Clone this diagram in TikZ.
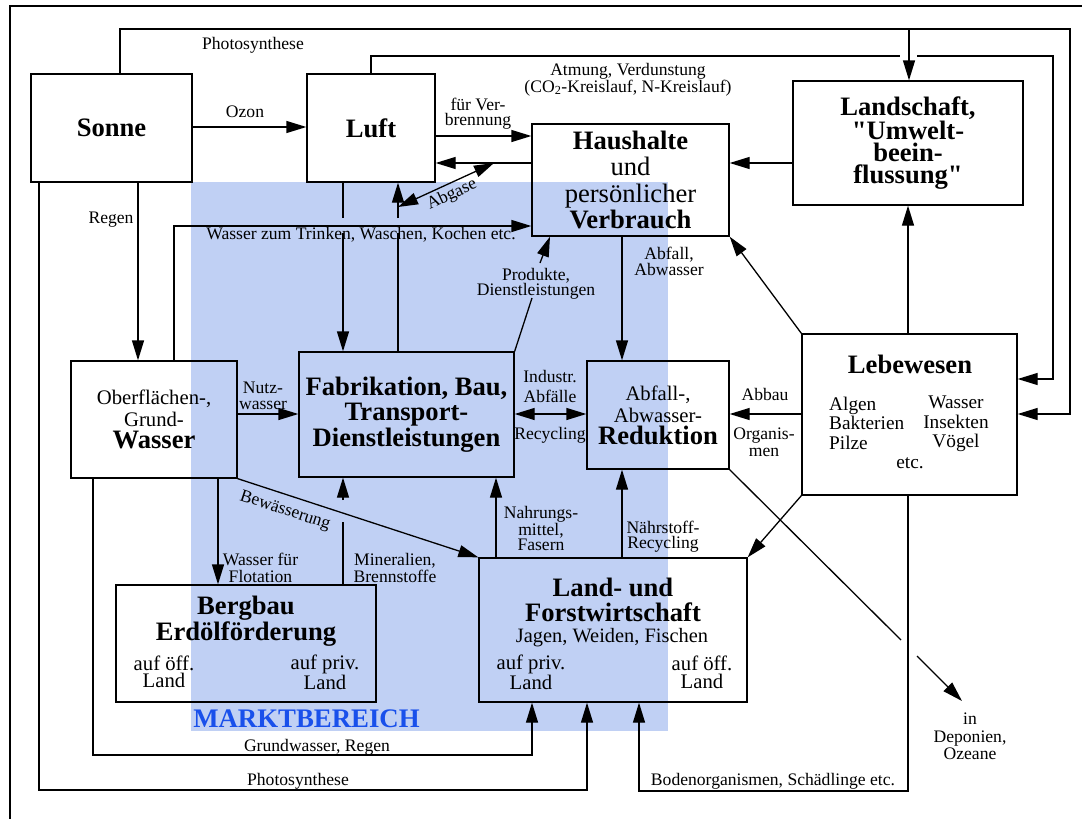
\documentclass[tikz,border=0pt]{standalone}
\usepackage{fontspec}
\setmainfont{Liberation Serif}[Ligatures=TeXOff]
\usetikzlibrary{arrows.meta,calc}
\definecolor{mkt}{RGB}{192,208,244}
\definecolor{mktext}{RGB}{25,80,235}
\newcommand\fsm{\fontsize{17.6}{16}\selectfont}
\newcommand\fmd{\fontsize{20.7}{22}\selectfont}
\newcommand\fbg{\fontsize{26.6}{26}\selectfont}
\begin{document}
\begin{tikzpicture}[x=1pt,y=-1pt,
  box/.style={draw, line width=1.3pt, inner sep=0pt, align=center, font=\fbg\bfseries},
  lab/.style={inner sep=0pt, align=center, font=\fsm},
  ln/.style={line width=1.3pt},
  arr/.style={line width=1.3pt, -{Triangle[length=20pt,width=12pt]}},
  darr/.style={line width=1.3pt, {Triangle[length=20pt,width=12pt]}-{Triangle[length=20pt,width=12pt]}},
]
\useasboundingbox (0,0) rectangle (1087,819);
\fill[mkt] (191,182) rectangle (668,731);
\draw[line width=2.5pt] (10,819) -- (10,6) -- (1082,6);

% boxes
\node[box, minimum width=161pt, minimum height=108pt] (sonne) at (111.5,128) {Sonne};
\node[box, minimum width=128pt, minimum height=108pt] (luft) at (371,128) {Luft};
\node[box, minimum width=197pt, minimum height=112pt, font=\fontsize{26.6}{26.3}\selectfont] (haus) at (630.5,180) {\textbf{Haushalte}\\und\\persönlicher\\\textbf{Verbrauch}};
\node[box, minimum width=230pt, minimum height=124pt, font=\fontsize{26.6}{22}\selectfont\bfseries] (land) at (908,143) {Landschaft,\\"Umwelt-\\beein-\\flussung"};
\node[box, minimum width=166pt, minimum height=117pt, font=\fmd] (wass) at (154,419.5) {Oberflächen-,\\Grund-\\{\fbg\bfseries Wasser}};
\node[box, minimum width=215pt, minimum height=125pt, font=\fontsize{26.6}{25.5}\selectfont\bfseries] (fab) at (406.5,414.5) {Fabrikation, Bau,\\Transport-\\Dienstleistungen};
\node[box, minimum width=142pt, minimum height=108pt, font=\fmd] (red) at (658,415) {Abfall-,\\Abwasser-\\{\fbg\bfseries Reduktion}};
\node[box, minimum width=215pt, minimum height=161pt] (leb) at (909.5,414.5) {};
\node[box, minimum width=260pt, minimum height=117pt] (berg) at (246,643.5) {};
\node[box, minimum width=268pt, minimum height=144pt] (lw) at (613,630) {};

% texts inside boxes
\node[lab, font=\fbg\bfseries] (lebt) at (910,364) {Lebewesen};
\node[lab, font=\fontsize{19.3}{19.5}\selectfont, align=left, anchor=west] (leba) at (829,423) {Algen\\Bakterien\\Pilze};
\node[lab, font=\fontsize{19.3}{19.5}\selectfont] (lebb) at (956,424) {Wasser\\Insekten\\Vögel};
\node[lab, font=\fontsize{19.3}{19.5}\selectfont] (lebc) at (910,463) {etc.};
\node[lab, font=\fbg\bfseries] (bergt) at (246,621) {Bergbau\\Erdölförderung};
\node[lab, font=\fontsize{20.7}{17.5}\selectfont] (berga) at (164,672) {auf öff.\\Land};
\node[lab, font=\fontsize{20.7}{17.5}\selectfont] (bergb) at (325,672) {auf priv.\\Land};
\node[lab, font=\fontsize{26.6}{25}\selectfont\bfseries] (lwt) at (613,600) {Land- und\\Forstwirtschaft};
\node[lab, font=\fontsize{20.4}{20}\selectfont] (lwj) at (612,638) {Jagen, Weiden, Fischen};
\node[lab, font=\fontsize{20.7}{18}\selectfont] (lwa) at (531,672) {auf priv.\\Land};
\node[lab, font=\fontsize{20.7}{18}\selectfont] (lwb) at (702,672) {auf öff.\\Land};

% connector coordinates
\coordinate (ptop) at (909,29);
\coordinate (atmA) at (900,56);
\coordinate (atmB) at (917,56);
\coordinate (abgA) at (398,207);
\coordinate (abgB) at (494,163);
\coordinate (fabUpA) at (398,233);
\coordinate (fabUpB) at (398,218);
\coordinate (luftDnA) at (343,218);
\coordinate (luftDnB) at (343,233);
\coordinate (minA) at (343,522);
\coordinate (minB) at (343,500);
\coordinate (prodA) at (532,298);
\coordinate (prodB) at (540,263);
\coordinate (depA) at (901,640);
\coordinate (depB) at (917,656);
\coordinate (depC) at (962,701);

% connectors
\draw[arr] (120,0 |- sonne.north) |- (1070,29) -- (1070,414) -- (leb.east |- 0,414);
\draw[arr] (ptop) -- (909,0 |- land.north);
\draw[ln] (371,0 |- luft.north) |- (atmA);
\draw[arr] (atmB) -| (1053,379) -- (leb.east |- 0,379);
\draw[arr] (sonne.east |- 0,127) -- (luft.west |- 0,127);
\draw[arr] (luft.east |- 0,136) -- (haus.west |- 0,136);
\draw[arr] (haus.west |- 0,163) -- (luft.east |- 0,163);
\draw[darr] (abgA) -- (abgB);
\draw[ln] (398,0 |- fab.north) -- (fabUpA);
\draw[arr] (fabUpB) -- (398,0 |- luft.south);
\draw[ln] (343,0 |- luft.south) -- (luftDnA);
\draw[arr] (luftDnB) -- (343,0 |- fab.north);
\draw[arr] (174,0 |- wass.north) |- (haus.west |- 0,226);
\draw[arr] (138,0 |- sonne.south) -- (138,0 |- wass.north);
\draw[arr] (39,0 |- sonne.south) |- (587,790) -- (587,0 |- lw.south);
\draw[arr] (93,0 |- wass.south) |- (532,755) -- (532,0 |- lw.south);
\draw[arr] (908,0 |- leb.south) |- (639,791) -- (639,0 |- lw.south);
\draw[arr] (908,0 |- leb.north) -- (908,0 |- land.south);
\draw[darr] (fab.east |- 0,414) -- (red.west |- 0,414);
\draw[arr] (622,0 |- haus.south) -- (622,0 |- red.north);
\draw[ln] (fab.north east) -- (prodA);
\draw[arr] (prodB) -- (550,0 |- haus.south);
\draw[arr] (leb.west |- 0,414) -- (red.east |- 0,414);
\draw[arr] (leb.north west) -- (haus.south east);
\draw[arr] (leb.south west) -- (lw.north east);
\draw[ln] (red.south east) -- (depA);
\draw[arr] (depB) -- (depC);
\draw[arr] (land.west |- 0,163) -- (haus.east |- 0,163);
\draw[arr] (wass.east |- 0,414) -- (fab.west |- 0,414);
\draw[arr] (wass.south east) -- (lw.north west);
\draw[arr] (218,0 |- wass.south) -- (218,0 |- berg.north);
\draw[ln] (343,0 |- berg.north) -- (minA);
\draw[arr] (minB) -- (343,0 |- fab.south);
\draw[arr] (496,0 |- lw.north) -- (496,0 |- fab.south);
\draw[arr] (622,0 |- lw.north) -- (622,0 |- red.south);

% labels
\node[lab] (lphoto1) at (253,45) {Photosynthese};
\node[lab] (lozon) at (245,112) {Ozon};
\node[lab] (lregen) at (111,220) {Regen};
\node[lab, font=\fontsize{17.6}{15}\selectfont] (lverbr) at (478,113.5) {für Ver-\\brennung};
\node[lab, font=\fontsize{17.6}{17}\selectfont] (latm) at (628,79.5) {Atmung, Verdunstung\\(CO\textsubscript{2}-Kreislauf, N-Kreislauf)};
\node[lab, rotate=25] (labg) at (452,195) {Abgase};
\node[lab] (lwtr) at (361,235) {Wasser zum Trinken, Waschen, Kochen etc.};
\node[lab] (labf) at (669,261) {Abfall,\\Abwasser};
\node[lab, font=\fontsize{17.6}{15}\selectfont] (lprod) at (536,283.5) {Produkte,\\Dienstleistungen};
\node[lab] (lnutz) at (263,396) {Nutz-\\wasser};
\node[lab, font=\fontsize{17.6}{20}\selectfont] (lind) at (550,386) {Industr.\\Abfälle};
\node[lab] (lrec) at (550,435) {Recycling};
\node[lab] (labb) at (765,394) {Abbau};
\node[lab, font=\fontsize{17.6}{17}\selectfont] (lorg) at (764,442) {Organis-\\men};
\node[lab, rotate=-18] (lbew) at (285,511) {Bewässerung};
\node[lab, font=\fontsize{17.6}{17}\selectfont] (lflot) at (260.5,567.5) {Wasser für\\Flotation};
\node[lab, font=\fontsize{17.6}{17}\selectfont] (lmin) at (395,567.5) {Mineralien,\\Brennstoffe};
\node[lab, font=\fontsize{17.6}{15.5}\selectfont] (lnahr) at (541,528.5) {Nahrungs-\\mittel,\\Fasern};
\node[lab, font=\fontsize{17.6}{15}\selectfont] (lnaehr) at (663,536.5) {Nährstoff-\\Recycling};
\node[lab] (lgrund) at (317,747) {Grundwasser, Regen};
\node[lab] (lphoto2) at (298,781) {Photosynthese};
\node[lab] (lboden) at (773,781) {Bodenorganismen, Schädlinge etc.};
\node[lab, font=\fontsize{17.6}{17.5}\selectfont] (ldep) at (970,736.5) {in\\Deponien,\\Ozeane};
\node[lab, font=\fontsize{26.8}{26}\selectfont\bfseries, text=mktext] (lmarkt) at (306.5,719) {MARKTBEREICH};
\end{tikzpicture}
\end{document}
